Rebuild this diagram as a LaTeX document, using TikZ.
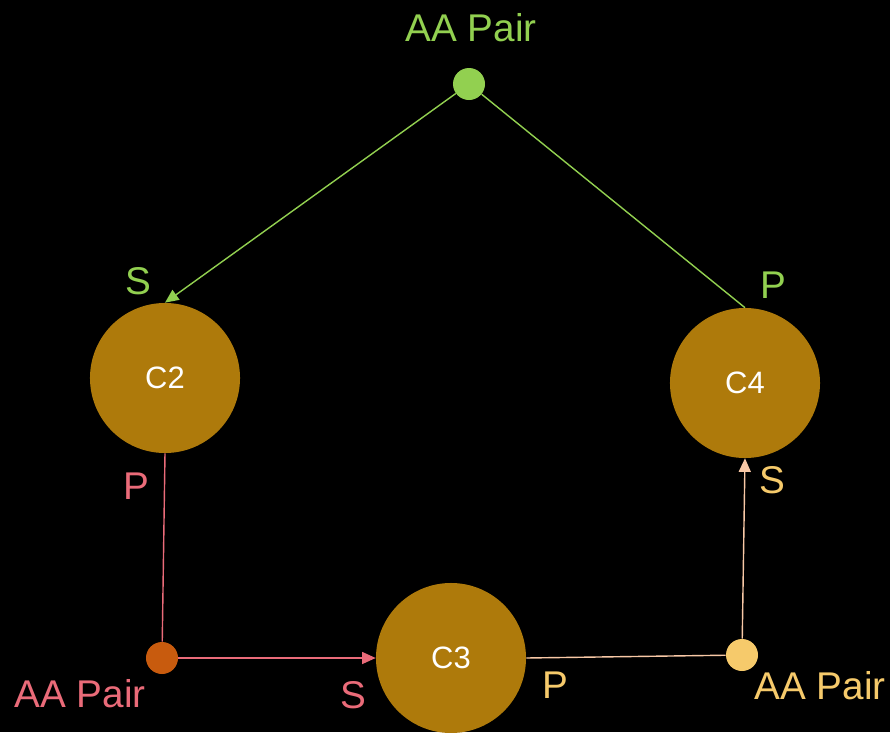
\documentclass[tikz,border=0pt]{standalone}
\usepackage{fontspec}
\setmainfont{Liberation Sans}
\usepackage{tikz}
\usetikzlibrary{arrows.meta}

\definecolor{pairgreen}{HTML}{92D050}
\definecolor{pairpink}{HTML}{EA6B79}
\definecolor{pairorange}{HTML}{C85B0E}
\definecolor{pairyellow}{HTML}{F6CA6B}
\definecolor{pairpeach}{HTML}{F8C8A6}
\definecolor{chainbrown}{HTML}{AE7A0B}

\tikzset{
    chain/.style = {circle, fill=chainbrown, minimum size=3.75cm, inner sep=0pt,
                    text=white, font=\fontsize{22}{24}\selectfont},
    pairdot/.style = {circle, minimum size=0.8cm, inner sep=0pt},
    lbl/.style = {font=\fontsize{27.5}{30}\selectfont, inner sep=0pt},
    link/.style = {line width=1pt},
    tip/.style = {-{Triangle[length=0.34cm,width=0.3cm]}}
}

\begin{document}
\begin{tikzpicture}[x=0.025cm, y=-0.025cm]
        \fill [black] (0,0) rectangle (890,732);
        \useasboundingbox (0,0) rectangle (890,732);
        % chains
        \node [chain] (c2) at (165, 378) {C2};
        \node [chain] (c4) at (745, 383) {C4};
        \node [chain] (c3) at (451, 658) {C3};
        % pairs
        \node [pairdot, fill=pairgreen] (g) at (469, 84) {};
        \node [pairdot, fill=pairorange] (o) at (162, 658) {};
        \node [pairdot, fill=pairyellow] (y) at (742, 655) {};
        % links
        \draw [link, tip, pairgreen] (g) -- (c2.north);
        \draw [link, pairgreen] (g) -- (c4.north);
        \draw [link, pairpink] (c2.south) -- (o);
        \draw [link, tip, pairpink] (o) -- (c3.west);
        \draw [link, pairpeach] (c3.east) -- (y);
        \draw [link, tip, pairpeach] (y) -- (c4.south);
        % labels
        \node [lbl, text=pairgreen] (gname) at (471, 28) {AA Pair};
        \node [lbl, text=pairgreen] (gs) at (138, 281) {S};
        \node [lbl, text=pairgreen] (gp) at (773, 285) {P};
        \node [lbl, text=pairpink] (op) at (136, 486) {P};
        \node [lbl, text=pairpink] (oname) at (80, 694) {AA Pair};
        \node [lbl, text=pairpink] (os) at (353, 695) {S};
        \node [lbl, text=pairyellow] (yp) at (555, 685) {P};
        \node [lbl, text=pairyellow] (ys) at (772, 480) {S};
        \node [lbl, text=pairyellow] (yname) at (820, 686) {AA Pair};
\end{tikzpicture}
\end{document}
